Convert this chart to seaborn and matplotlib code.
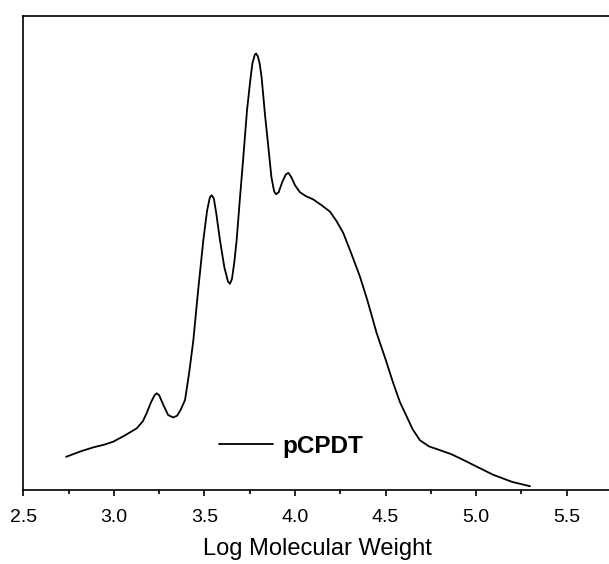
import numpy as np
import pandas as pd
import matplotlib
matplotlib.use("Agg")
import matplotlib.pyplot as plt
import seaborn as sns
from matplotlib.ticker import MultipleLocator

# Data (GPC trace of pCPDT)
log_mw = [2.736, 2.82, 2.887, 2.95, 2.997, 3.06, 3.126, 3.16, 3.181, 3.205, 3.225, 3.237,
          3.25, 3.275, 3.30, 3.328, 3.35, 3.37, 3.393, 3.415, 3.439, 3.465, 3.494, 3.515,
          3.530, 3.540, 3.552, 3.565, 3.586, 3.61, 3.630, 3.641, 3.652, 3.665, 3.678, 3.695,
          3.715, 3.735, 3.752, 3.765, 3.778, 3.785, 3.795, 3.805, 3.816, 3.835, 3.853, 3.870,
          3.885, 3.895, 3.91, 3.93, 3.950, 3.964, 3.98, 4.00, 4.028, 4.06, 4.101, 4.15,
          4.194, 4.23, 4.267, 4.31, 4.359, 4.40, 4.451, 4.50, 4.543, 4.58, 4.617, 4.65,
          4.690, 4.74, 4.801, 4.86, 4.911, 5.00, 5.095, 5.20, 5.298]
intensity = [0.070, 0.082, 0.090, 0.096, 0.102, 0.115, 0.130, 0.145, 0.162, 0.185, 0.200, 0.204,
             0.200, 0.178, 0.158, 0.153, 0.157, 0.170, 0.190, 0.245, 0.316, 0.420, 0.527, 0.590,
             0.617, 0.622, 0.615, 0.585, 0.527, 0.470, 0.440, 0.435, 0.445, 0.480, 0.527, 0.610,
             0.703, 0.800, 0.860, 0.900, 0.918, 0.921, 0.915, 0.900, 0.870, 0.790, 0.724, 0.660,
             0.630, 0.624, 0.628, 0.650, 0.666, 0.669, 0.660, 0.643, 0.628, 0.620, 0.613, 0.600,
             0.587, 0.567, 0.542, 0.500, 0.450, 0.400, 0.331, 0.276, 0.225, 0.185, 0.155, 0.128,
             0.105, 0.092, 0.084, 0.076, 0.067, 0.050, 0.032, 0.017, 0.008]
series_name = "pCPDT"
x_ticks = [2.5, 3.0, 3.5, 4.0, 4.5, 5.0, 5.5]

df = pd.DataFrame({"Log Molecular Weight": log_mw, "Intensity": intensity, "Sample": series_name})

sns.set_style("white")
plt.rcParams["font.family"] = ["Liberation Sans", "DejaVu Sans"]
plt.rcParams["text.color"] = "black"
plt.rcParams["axes.labelcolor"] = "black"
plt.rcParams["xtick.color"] = "black"

fig = plt.figure(figsize=(6.09, 5.64), dpi=100)
ax = fig.add_axes([23.3 / 609, (564 - 490) / 564, 588.6 / 609, 474 / 564])

sns.lineplot(data=df, x="Log Molecular Weight", y="Intensity", hue="Sample",
             palette=["black"], linewidth=1.3, ax=ax, sort=False, estimator=None)

ax.set_xlim(2.5, 5.75)
ax.set_ylim(0, 1.0)
ax.set_xticks(x_ticks)
ax.set_xticklabels([f"{t:.1f}" for t in x_ticks])
ax.xaxis.set_minor_locator(MultipleLocator(0.25))
ax.set_yticks([])
ax.set_ylabel("")
ax.tick_params(axis="x", which="major", direction="out", length=4, width=1.2,
               labelsize=14, pad=10, bottom=True, top=False, colors="black")
ax.tick_params(axis="x", which="minor", direction="out", length=3, width=1.2,
               bottom=True, top=False, colors="black")
for side in ["left", "bottom", "top", "right"]:
    ax.spines[side].set_color("black")
    ax.spines[side].set_linewidth(1.2)
ax.spines["right"].set_visible(False)

ax.set_xlabel("Log Molecular Weight", fontsize=17, labelpad=8, color="black")

fs_leg = 17.5
em_px = fs_leg * 100 / 72
leg = ax.legend(loc="center left", bbox_to_anchor=((219 - 23.3) / 588.6, (490 - 446) / 474),
                frameon=False, borderaxespad=0, borderpad=0, handlelength=54 / em_px,
                handletextpad=9 / em_px, prop={"weight": "bold", "size": fs_leg})
for txt in leg.get_texts():
    txt.set_color("black")
for line in leg.get_lines():
    line.set_linewidth(1.3)

fig.savefig("out.png", dpi=100)
